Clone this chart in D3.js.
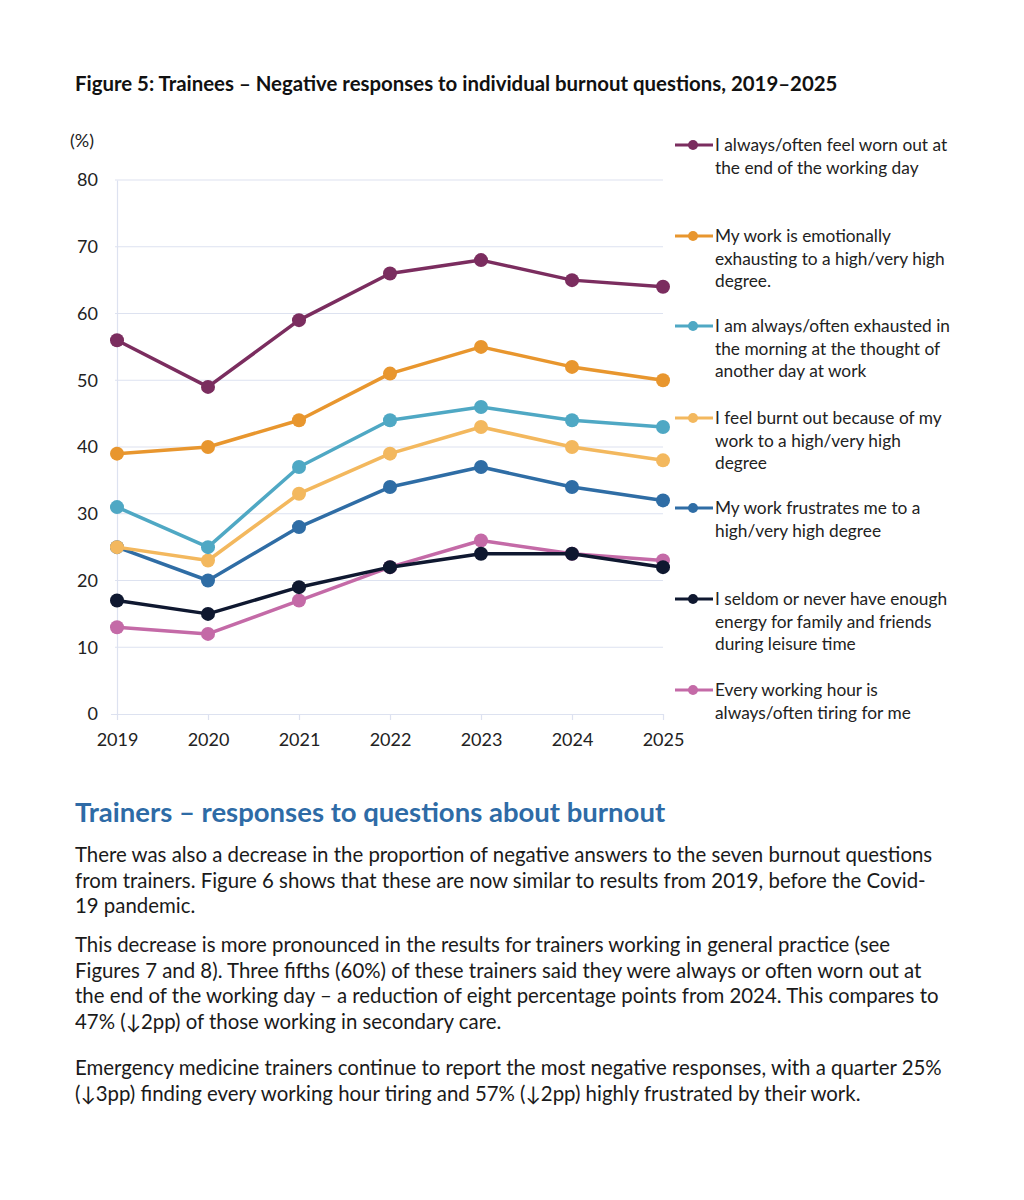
<!DOCTYPE html>
<html lang="en">
<head>
<meta charset="UTF-8">
<title>Figure 5</title>
<style>
  body { margin: 0; background: #fff; }
  svg text { font-family: Lato, "Open Sans", sans-serif; }
</style>
</head>
<body>
<svg id="chart" width="1024" height="1200"></svg>
<script src="https://d3js.org/d3.v7.min.js"></script>
<script>
// data
var years = [2019, 2020, 2021, 2022, 2023, 2024, 2025];
var yTicks = [0, 10, 20, 30, 40, 50, 60, 70, 80];

var wornOut      = [56, 49, 59, 66, 68, 65, 64];
var emotional    = [39, 40, 44, 51, 55, 52, 50];
var morning      = [31, 25, 37, 44, 46, 44, 43];
var burntOut     = [25, 23, 33, 39, 43, 40, 38];
var frustrates   = [25, 20, 28, 34, 37, 34, 32];
var lowEnergy    = [17, 15, 19, 22, 24, 24, 22];
var everyHour    = [13, 12, 17, 22, 26, 24, 23];

var seriesNames = [
  ["I always/often feel worn out at", "the end of the working day"],
  ["My work is emotionally", "exhausting to a high/very high", "degree."],
  ["I am always/often exhausted in", "the morning at the thought of", "another day at work"],
  ["I feel burnt out because of my", "work to a high/very high", "degree"],
  ["My work frustrates me to a", "high/very high degree"],
  ["I seldom or never have enough", "energy for family and friends", "during leisure time"],
  ["Every working hour is", "always/often tiring for me"]
];
var seriesValues = [wornOut, emotional, morning, burntOut, frustrates, lowEnergy, everyHour];
var colors = ["#7b2d5f", "#e8962e", "#4fa8c4", "#f3b85e", "#2f6da5", "#0f1830", "#c46aa7"];
var legendTop = [145, 236, 326, 418, 508, 599, 690];

var svg = d3.select("#chart");

var x = d3.scalePoint().domain(years).range([117, 663]);
var y = d3.scaleLinear().domain([0, 80]).range([714, 180]);

svg.append("text")
  .attr("x", 75).attr("y", 91)
  .style("font-size", "20.4px").style("font-weight", "bold").attr("fill", "#111")
  .text("Figure 5: Trainees \u2013 Negative responses to individual burnout questions, 2019\u20132025");

svg.append("text")
  .attr("x", 70).attr("y", 147)
  .style("font-size", "18px").attr("fill", "#222")
  .text("(%)");

// gridlines
svg.append("g").selectAll("line").data(yTicks.slice(1)).join("line")
  .attr("x1", 115).attr("x2", 663)
  .attr("y1", d => y(d)).attr("y2", d => y(d))
  .attr("stroke", "#dde2f0").attr("stroke-width", 1.2);

// y axis
var yAxis = svg.append("g").attr("transform", "translate(117,0)")
  .call(d3.axisLeft(y).tickValues(yTicks).tickSize(0).tickPadding(19));
yAxis.select(".domain").attr("stroke", "#dde2f0").attr("stroke-width", 1.2);
yAxis.selectAll("text").style("font-size", "18px").attr("fill", "#222");

// x axis
var xAxis = svg.append("g").attr("transform", "translate(0,714)")
  .call(d3.axisBottom(x).tickSize(6).tickPadding(13).tickFormat(d3.format("d")));
xAxis.select(".domain").attr("stroke", "#dde2f0").attr("stroke-width", 1.2)
  .attr("d", "M111,0.5H663");
xAxis.selectAll(".tick line").attr("stroke", "#dde2f0").attr("stroke-width", 1.2);
xAxis.selectAll("text").style("font-size", "18px").attr("fill", "#222");

var line = d3.line().x((d, i) => x(years[i])).y(d => y(d));

// draw in reverse so the top series are on top
var order = [6, 5, 4, 3, 2, 1, 0];
order.forEach(function(s) {
  var g = svg.append("g");
  g.append("path").datum(seriesValues[s])
    .attr("d", line).attr("fill", "none")
    .attr("stroke", colors[s]).attr("stroke-width", 3.5)
    .attr("stroke-linejoin", "round");
  g.selectAll("circle").data(seriesValues[s]).join("circle")
    .attr("cx", (d, i) => x(years[i])).attr("cy", d => y(d))
    .attr("r", 7).attr("fill", colors[s]);
});

// legend
var leg = svg.append("g");
seriesNames.forEach(function(lines, s) {
  var ly = legendTop[s];
  leg.append("line").attr("x1", 675).attr("x2", 713)
    .attr("y1", ly).attr("y2", ly)
    .attr("stroke", colors[s]).attr("stroke-width", 3);
  leg.append("circle").attr("cx", 693).attr("cy", ly).attr("r", 5).attr("fill", colors[s]);
  lines.forEach(function(t, k) {
    leg.append("text").attr("x", 715).attr("y", ly + 6 + k * 22.5)
      .style("font-size", "17.3px").attr("fill", "#222").text(t);
  });
});

// text below the chart
svg.append("text")
  .attr("x", 75).attr("y", 822)
  .style("font-size", "27.5px").style("font-weight", "bold").attr("fill", "#2e6ba6")
  .text("Trainers \u2013 responses to questions about burnout");

var paragraphs = [
  { top: 862, lines: [
    "There was also a decrease in the proportion of negative answers to the seven burnout questions",
    "from trainers. Figure 6 shows that these are now similar to results from 2019, before the Covid-",
    "19 pandemic."] },
  { top: 952, lines: [
    "This decrease is more pronounced in the results for trainers working in general practice (see",
    "Figures 7 and 8). Three fifths (60%) of these trainers said they were always or often worn out at",
    "the end of the working day \u2013 a reduction of eight percentage points from 2024. This compares to",
    "47% (\u21932pp) of those working in secondary care."] },
  { top: 1075, lines: [
    "Emergency medicine trainers continue to report the most negative responses, with a quarter 25%",
    "(\u21933pp) finding every working hour tiring and 57% (\u21932pp) highly frustrated by their work."] }
];
paragraphs.forEach(function(p) {
  p.lines.forEach(function(t, k) {
    svg.append("text").attr("x", 75).attr("y", p.top + k * 25.7)
      .style("font-size", "20.4px").attr("fill", "#1a1a1a").text(t);
  });
});
</script>
</body>
</html>
